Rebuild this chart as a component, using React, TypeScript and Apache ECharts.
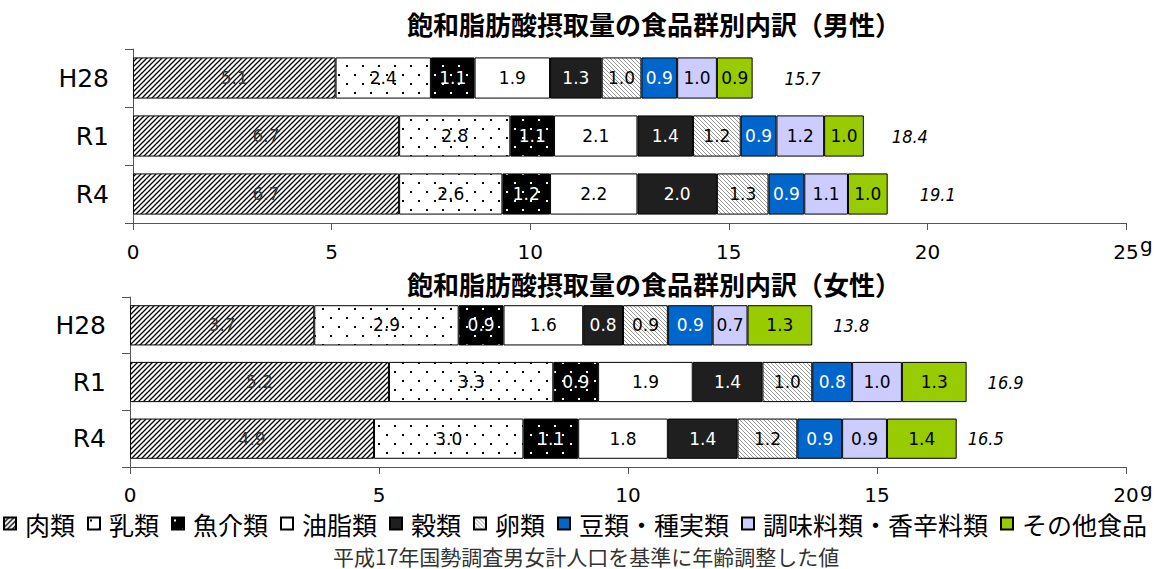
import React, { useEffect, useRef } from 'react';
import * as echarts from 'echarts';

// ---------- data ----------
const categories = ['H28', 'R1', 'R4'];
const foodGroups = ['肉類', '乳類', '魚介類', '油脂類', '穀類', '卵類', '豆類・種実類', '調味料類・香辛料類', 'その他食品'];

// male (g)
const maleMeat = [5.1, 6.7, 6.7];
const maleMilk = [2.4, 2.8, 2.6];
const maleFish = [1.1, 1.1, 1.2];
const maleOil = [1.9, 2.1, 2.2];
const maleGrain = [1.3, 1.4, 2.0];
const maleEgg = [1.0, 1.2, 1.3];
const maleBeans = [0.9, 0.9, 0.9];
const maleSeasoning = [1.0, 1.2, 1.1];
const maleOther = [0.9, 1.0, 1.0];
const maleTotals = [15.7, 18.4, 19.1];

// female (g)
const femaleMeat = [3.7, 5.2, 4.9];
const femaleMilk = [2.9, 3.3, 3.0];
const femaleFish = [0.9, 0.9, 1.1];
const femaleOil = [1.6, 1.9, 1.8];
const femaleGrain = [0.8, 1.4, 1.4];
const femaleEgg = [0.9, 1.0, 1.2];
const femaleBeans = [0.9, 0.8, 0.9];
const femaleSeasoning = [0.7, 1.0, 0.9];
const femaleOther = [1.3, 1.3, 1.4];
const femaleTotals = [13.8, 16.9, 16.5];

const maleAxisMax = 25;
const femaleAxisMax = 20;
const axisInterval = 5;

const titleMale = '飽和脂肪酸摂取量の食品群別内訳（男性）';
const titleFemale = '飽和脂肪酸摂取量の食品群別内訳（女性）';
const footnote = '平成17年国勢調査男女計人口を基準に年齢調整した値';
const unitLabel = 'g';

const maleValues = [maleMeat, maleMilk, maleFish, maleOil, maleGrain, maleEgg, maleBeans, maleSeasoning, maleOther];
const femaleValues = [femaleMeat, femaleMilk, femaleFish, femaleOil, femaleGrain, femaleEgg, femaleBeans, femaleSeasoning, femaleOther];

// ---------- patterns ----------
const svgUrl = (svg: string) => 'data:image/svg+xml;charset=utf-8,' + encodeURIComponent(svg);
const pat = (w: number, h: number, body: string) => ({
  image: svgUrl(`<svg xmlns="http://www.w3.org/2000/svg" width="${w}" height="${h}">${body}</svg>`),
  repeat: 'repeat',
  imageWidth: w,
  imageHeight: h,
});

const meatPattern = pat(5, 5,
  '<rect width="5" height="5" fill="#fff"/><path d="M0,5 L5,0 M-1,1 L1,-1 M4,6 L6,4" stroke="#000" stroke-width="1.3"/>');
const milkPattern = pat(16, 18,
  '<rect width="16" height="18" fill="#fff"/><rect x="2" y="2" width="2" height="2" fill="#000"/><rect x="10" y="11" width="2" height="2" fill="#000"/>');
const fishPattern = pat(16, 18,
  '<rect width="16" height="18" fill="#000"/><rect x="2" y="2" width="2" height="2" fill="#fff"/><rect x="10" y="11" width="2" height="2" fill="#fff"/>');
const eggPattern = pat(4, 4,
  '<rect width="4" height="4" fill="#fff"/><path d="M0,0 L4,4 M-1,3 L1,5 M3,-1 L5,1" stroke="#9a9a9a" stroke-width="1"/>');

const fills: any[] = [meatPattern, milkPattern, fishPattern, '#ffffff', '#1f1f1f', eggPattern, '#0066cc', '#ccccff', '#99cc00'];
const labelColors = ['#333', '#000', '#fff', '#000', '#fff', '#000', '#fff', '#000', '#000'];

const labelFont = "'DejaVu Sans', Verdana, sans-serif";
const cjkFont = "'Noto Sans CJK JP', sans-serif";

function makeSeries(values: number[][], totals: number[], stack: string, idx: number, totalDist: number) {
  const s: any[] = foodGroups.map((name, i) => ({
    type: 'bar',
    name,
    stack,
    xAxisIndex: idx,
    yAxisIndex: idx,
    barWidth: '71%',
    data: values[i],
    itemStyle: { color: fills[i], borderColor: '#000', borderWidth: 1 },
    label: {
      show: true,
      position: 'inside',
      formatter: (p: any) => Number(p.value).toFixed(1),
      color: labelColors[i],
      fontSize: 17,
      fontFamily: labelFont,
    },
    emphasis: { disabled: true },
  }));
  s.push({
    type: 'bar',
    name: '合計',
    xAxisIndex: idx,
    yAxisIndex: idx,
    barWidth: '71%',
    barGap: '-100%',
    data: totals,
    itemStyle: { color: 'rgba(0,0,0,0)', borderWidth: 0 },
    z: 1,
    silent: true,
    label: {
      show: true,
      position: 'right',
      distance: totalDist,
      formatter: (p: any) => Number(p.value).toFixed(1),
      color: '#000',
      fontSize: 18,
      fontStyle: 'italic',
      fontFamily: "'DejaVu Sans Condensed', 'Liberation Sans Narrow', 'DejaVu Sans', sans-serif",
    },
    emphasis: { disabled: true },
  });
  return s;
}

const axisLineColor = '#555';

function makeX(idx: number, max: number, margin: number) {
  return {
    type: 'value',
    gridIndex: idx,
    min: 0,
    max,
    interval: axisInterval,
    splitLine: { show: false },
    axisLine: { show: true, lineStyle: { color: axisLineColor, width: 1 } },
    axisTick: { show: true, length: 7, lineStyle: { color: axisLineColor } },
    axisLabel: { fontSize: 20, lineHeight: 18, color: '#000', margin, fontFamily: labelFont },
  };
}

function makeY(idx: number) {
  return {
    type: 'category',
    gridIndex: idx,
    data: categories,
    inverse: true,
    axisLine: { show: true, lineStyle: { color: axisLineColor, width: 1 } },
    axisTick: { show: true, length: 8, lineStyle: { color: axisLineColor } },
    axisLabel: { fontSize: 25, color: '#000', margin: 24, fontFamily: labelFont },
  };
}

export default function App() {
  const ref = useRef<HTMLDivElement>(null);
  useEffect(() => {
    if (!ref.current) return;
    const chart = echarts.init(ref.current, undefined, { renderer: 'svg' });
    const option: any = {
      animation: false,
      backgroundColor: '#fff',
      title: [
        {
          text: titleMale,
          left: 649,
          textAlign: 'center',
          top: 5,
          textStyle: { fontSize: 26, fontWeight: 'bold', color: '#000', fontFamily: cjkFont },
        },
        {
          text: titleFemale,
          left: 649,
          textAlign: 'center',
          top: 264,
          textStyle: { fontSize: 26, lineHeight: 28, fontWeight: 'bold', color: '#000', fontFamily: cjkFont },
        },
      ],
      grid: [
        { left: 133, right: 30, top: 49, height: 174 },
        { left: 130, right: 30, top: 297, height: 170 },
      ],
      xAxis: [makeX(0, maleAxisMax, 20), makeX(1, femaleAxisMax, 19)],
      yAxis: [makeY(0), makeY(1)],
      legend: {
        data: foodGroups.map((n) => ({ name: n, icon: 'rect' })),
        left: 3,
        top: 511,
        width: 1153,
        padding: 0,
        itemWidth: 12,
        itemHeight: 12,
        itemGap: 12,
        selectedMode: false,
        textStyle: { fontSize: 25, lineHeight: 24, color: '#000', fontFamily: cjkFont, padding: [0, 0, 0, 4] },
      },
      graphic: [
        { type: 'text', left: 1140, top: 235, style: { text: unitLabel, fill: '#000', font: `20px ${labelFont}` } },
        { type: 'text', left: 1140, top: 480, style: { text: unitLabel, fill: '#000', font: `20px ${labelFont}` } },
        {
          type: 'text',
          left: 333,
          top: 545,
          style: { text: footnote, fill: '#333', font: `21px ${cjkFont}` },
        },
      ],
      series: [
        ...makeSeries(maleValues, maleTotals, 'male', 0, 28),
        ...makeSeries(femaleValues, femaleTotals, 'female', 1, 16),
      ],
    };
    chart.setOption(option);
    return () => chart.dispose();
  }, []);
  return <div ref={ref} style={{ position: 'fixed', left: 0, top: 0, width: 1156, height: 569 }} />;
}
